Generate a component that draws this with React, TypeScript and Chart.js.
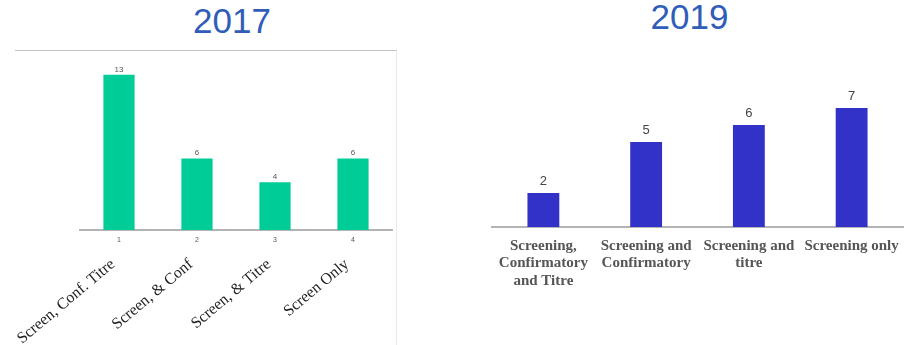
import { useEffect, useRef } from "react";
import { Chart, registerables } from "chart.js";

Chart.register(...registerables);

// 2017 survey: numbered categories with their long names
const ticks2017 = ["1", "2", "3", "4"];
const names2017 = ["Screen, Conf. Titre", "Screen, & Conf", "Screen, & Titre", "Screen Only"];
const values2017 = [13, 6, 4, 6];

// 2019 survey
const labels2019 = [
  ["Screening,", "Confirmatory", "and Titre"],
  ["Screening and", "Confirmatory"],
  ["Screening and", "titre"],
  ["Screening only"],
];
const values2019 = [2, 5, 6, 7];

const SANS = '"Liberation Sans", Arial, sans-serif';
const SERIF = '"Liberation Serif", "Times New Roman", serif';
const GREEN = "#00cc98";
const BLUE = "#3232c9";
const TITLE_BLUE = "#2f5db7";

// Writes each bar's value just above it
const valueLabels = {
  id: "valueLabels",
  afterDatasetsDraw(chart: any, _args: any, opts: any) {
    const { ctx } = chart;
    const meta = chart.getDatasetMeta(0);
    const data = chart.data.datasets[0].data;
    ctx.save();
    ctx.font = opts.font;
    ctx.fillStyle = opts.color;
    ctx.textAlign = "center";
    ctx.textBaseline = "alphabetic";
    meta.data.forEach((bar: any, i: number) => {
      ctx.fillText(String(data[i]), bar.x, bar.y - opts.offset);
    });
    ctx.restore();
  },
};

function Chart2017() {
  const ref = useRef<HTMLCanvasElement>(null);
  useEffect(() => {
    const chart = new Chart(ref.current!, {
      type: "bar",
      data: {
        labels: ticks2017,
        datasets: [
          {
            data: values2017,
            backgroundColor: GREEN,
            barPercentage: 0.4,
            categoryPercentage: 1,
            xAxisID: "x",
            yAxisID: "y",
          },
        ],
      },
      plugins: [valueLabels],
      options: {
        responsive: false,
        animation: false,
        layout: { padding: { left: 65, right: 3, top: 0, bottom: 0 } },
        plugins: {
          legend: { display: false },
          tooltip: { enabled: false },
          valueLabels: { font: `8px ${SANS}`, color: "#555", offset: 3 },
        } as any,
        scales: {
          y: { display: false, min: 0, max: 15 },
          x: {
            position: "bottom",
            weight: 0,
            grid: { display: false, drawTicks: false },
            border: { display: true, color: "#b4b4b4", width: 2 },
            ticks: { font: { size: 7, family: SANS }, color: "#555", padding: 6 },
            afterFit: (s: any) => {
              s.height = 25;
              s.paddingLeft = 0;
              s.paddingRight = 0;
            },
          },
          x2: {
            type: "category",
            labels: names2017,
            position: "bottom",
            weight: 1,
            grid: { display: false, drawTicks: false },
            border: { display: false },
            ticks: {
              autoSkip: false,
              minRotation: 40,
              maxRotation: 40,
              labelOffset: -6,
              font: { size: 16, family: SERIF },
              color: "#222",
              padding: 0,
            },
            afterFit: (s: any) => {
              s.height = 90;
              s.paddingLeft = 0;
              s.paddingRight = 0;
            },
          },
        } as any,
      },
    });
    return () => chart.destroy();
  }, []);
  return <canvas ref={ref} width={380} height={294} style={{ display: "block" }} />;
}

function Chart2019() {
  const ref = useRef<HTMLCanvasElement>(null);
  useEffect(() => {
    const chart = new Chart(ref.current!, {
      type: "bar",
      data: {
        labels: labels2019,
        datasets: [
          {
            data: values2019,
            backgroundColor: BLUE,
            barPercentage: 0.31,
            categoryPercentage: 1,
          },
        ],
      },
      plugins: [valueLabels],
      options: {
        responsive: false,
        animation: false,
        layout: { padding: { left: 32, right: 12, top: 0, bottom: 0 } },
        plugins: {
          legend: { display: false },
          tooltip: { enabled: false },
          valueLabels: { font: `13px ${SANS}`, color: "#444", offset: 8.5 },
        } as any,
        scales: {
          y: { display: false, min: 0, max: 11 },
          x: {
            grid: { display: false, drawTicks: false },
            border: { display: true, color: "#b4b4b4", width: 2 },
            ticks: {
              autoSkip: false,
              maxRotation: 0,
              font: { size: 15, family: SERIF, weight: "bold", lineHeight: 1.17 },
              color: "#555",
              padding: 10,
            },
            afterFit: (s: any) => {
              s.height = 118;
              s.paddingLeft = 0;
              s.paddingRight = 0;
            },
          },
        } as any,
      },
    });
    return () => chart.destroy();
  }, []);
  return <canvas ref={ref} width={455} height={305} style={{ display: "block" }} />;
}

const titleStyle = {
  position: "absolute" as const,
  width: 200,
  textAlign: "center" as const,
  fontFamily: SANS,
  fontSize: 35,
  lineHeight: "35px",
  color: TITLE_BLUE,
};

export default function App() {
  return (
    <div
      style={{
        position: "absolute",
        left: 0,
        top: 0,
        width: 915,
        height: 345,
        background: "#fff",
        overflow: "hidden",
      }}
    >
      <div style={{ ...titleStyle, left: 132, top: 3.4 }}>2017</div>
      <div
        style={{
          position: "absolute",
          left: 15,
          top: 50,
          width: 382,
          height: 295,
          boxSizing: "border-box",
          borderTop: "1px solid #c4c4c4",
          borderRight: "1px solid #e8e8e8",
        }}
      >
        <Chart2017 />
      </div>
      <div style={{ ...titleStyle, left: 589.5, top: -0.6 }}>2019</div>
      <div style={{ position: "absolute", left: 460, top: 40 }}>
        <Chart2019 />
      </div>
    </div>
  );
}
